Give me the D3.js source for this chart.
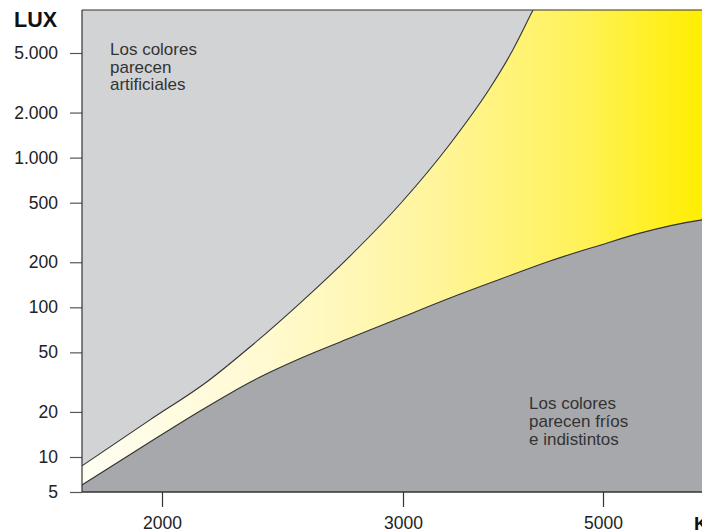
<!DOCTYPE html>
<html><head><meta charset="utf-8">
<script src="https://cdn.jsdelivr.net/npm/d3@7"></script>
<style>html,body{margin:0;padding:0;background:#fff}svg{display:block}</style>
</head><body>
<script>
// ---- data ----
const tempTicks = [2000, 3000, 5000];
const tempTickLabels = ["2000", "3000", "5000"];
const luxTicks = [5, 10, 20, 50, 100, 200, 500, 1000, 2000, 5000];
const luxTickLabels = ["5", "10", "20", "50", "100", "200", "500", "1.000", "2.000", "5.000"];
// upper boundary (artificial colours above)
const upperK   = [1668, 1950, 2191, 2365, 2573, 2780, 2988, 3470, 3870, 4070, 4300, 4530];
const upperLux = [8.4, 17.7, 32.2, 54.3, 106.8, 220, 490, 1233, 2917, 4846, 9684, 19340];
// lower boundary (cold / dim colours below)
const lowerK   = [1668, 1950, 2158, 2282, 2407, 2573, 2780, 2988, 3470, 3970, 4470, 4970, 5370, 5990, 6200];
const lowerLux = [5.74, 12.6, 20.3, 26.6, 34.2, 45.5, 62.3, 84.9, 115.4, 154, 204, 260, 313, 384, 400];
const labelTop = ["Los colores", "parecen", "artificiales"];
const labelBottom = ["Los colores", "parecen fríos", "e indistintos"];

// ---- layout ----
const W = 702, H = 532;
const L = 82, T = 10, B = 492, R = 702;
const font = "'Liberation Sans', Arial, Helvetica, sans-serif";

const svg = d3.select("body").append("svg").attr("width", W).attr("height", H);

const x = d3.scaleLinear().domain(tempTicks).range([162, 403, 603]);
const y = d3.scaleLog().domain([5, 10, 5000]).range([B, 457, 53]);

const defs = svg.append("defs");
defs.append("clipPath").attr("id", "clip").append("rect")
  .attr("x", L).attr("y", T).attr("width", R - L + 10).attr("height", B - T);
const grad = defs.append("linearGradient").attr("id", "yel")
  .attr("gradientUnits", "userSpaceOnUse").attr("x1", L).attr("x2", R).attr("y1", 0).attr("y2", 0);
[[0, "#fffef2"], [0.3, "#fffad0"], [0.55, "#fff5a0"], [0.8, "#fff25a"], [1, "#ffee00"]]
  .forEach(([o, c]) => grad.append("stop").attr("offset", o).attr("stop-color", c));

const upper = upperK.map((k, i) => [k, upperLux[i]]);
const lower = lowerK.map((k, i) => [k, lowerLux[i]]);

const line = d3.line().x(d => x(d[0])).y(d => y(d[1])).curve(d3.curveMonotoneX);
const g = svg.append("g").attr("clip-path", "url(#clip)");

// background light gray
g.append("rect").attr("x", L).attr("y", T).attr("width", R - L + 10).attr("height", B - T).attr("fill", "#d2d3d5");

// yellow region
const up = line(upper);
const lowRevPath = line(lower.slice().reverse());
const lastU = upper[upper.length - 1], lastL = lower[lower.length - 1];
const yellowPath = up + "L" + x(lastL[0]) + "," + y(lastU[1]) + "L" + lowRevPath.slice(1);
g.append("path").attr("d", yellowPath).attr("fill", "url(#yel)");

// dark gray region
const area = d3.area().x(d => x(d[0])).y0(B).y1(d => y(d[1])).curve(d3.curveMonotoneX);
g.append("path").datum(lower).attr("d", area).attr("fill", "#a7a8ab");

// curve strokes
g.append("path").attr("d", up).attr("fill", "none").attr("stroke", "#333").attr("stroke-width", 1.1);
g.append("path").attr("d", line(lower)).attr("fill", "none").attr("stroke", "#333").attr("stroke-width", 1.1);

// frame lines
svg.append("line").attr("x1", L).attr("x2", W).attr("y1", T).attr("y2", T).attr("stroke", "#333").attr("stroke-width", 1.2);

// axes
const yAxis = svg.append("g").attr("transform", `translate(${L},0)`)
  .call(d3.axisLeft(y).tickValues(luxTicks).tickFormat((d, i) => luxTickLabels[i]).tickSize(12).tickPadding(12).tickSizeOuter(0));
yAxis.select(".domain").remove();
yAxis.selectAll(".tick line").attr("stroke", "#555").attr("stroke-width", 1.2);
yAxis.selectAll("text").attr("font-family", font).attr("font-size", 17.5).attr("fill", "#222");
svg.append("line").attr("x1", L).attr("x2", L).attr("y1", T).attr("y2", B).attr("stroke", "#333").attr("stroke-width", 1.2);

const xAxis = svg.append("g").attr("transform", `translate(0,${B})`)
  .call(d3.axisBottom(x).tickValues(tempTicks).tickFormat((d, i) => tempTickLabels[i]).tickSize(15).tickPadding(10).tickSizeOuter(0));
xAxis.select(".domain").remove();
xAxis.selectAll(".tick line").attr("stroke", "#333").attr("stroke-width", 1.2);
xAxis.selectAll("text").attr("font-family", font).attr("font-size", 17.5).attr("fill", "#222");
svg.append("line").attr("x1", L).attr("x2", W).attr("y1", B).attr("y2", B).attr("stroke", "#333").attr("stroke-width", 1.4);

// axis titles
svg.append("text").attr("x", 57).attr("y", 27).attr("text-anchor", "end")
  .attr("font-family", font).attr("font-weight", "bold").attr("font-size", 21.5).attr("fill", "#111").text("LUX");
svg.append("text").attr("x", 694).attr("y", 530)
  .attr("font-family", font).attr("font-weight", "bold").attr("font-size", 19).attr("fill", "#111").text("K");

// annotations
const t1 = svg.append("text").attr("font-family", font).attr("font-size", 17).attr("fill", "#333");
labelTop.forEach((s, i) => t1.append("tspan").attr("x", 110).attr("y", 55 + i * 17.5).text(s));
const t2 = svg.append("text").attr("font-family", font).attr("font-size", 17).attr("fill", "#333");
labelBottom.forEach((s, i) => t2.append("tspan").attr("x", 529).attr("y", 409 + i * 18).text(s));
</script>
</body></html>
